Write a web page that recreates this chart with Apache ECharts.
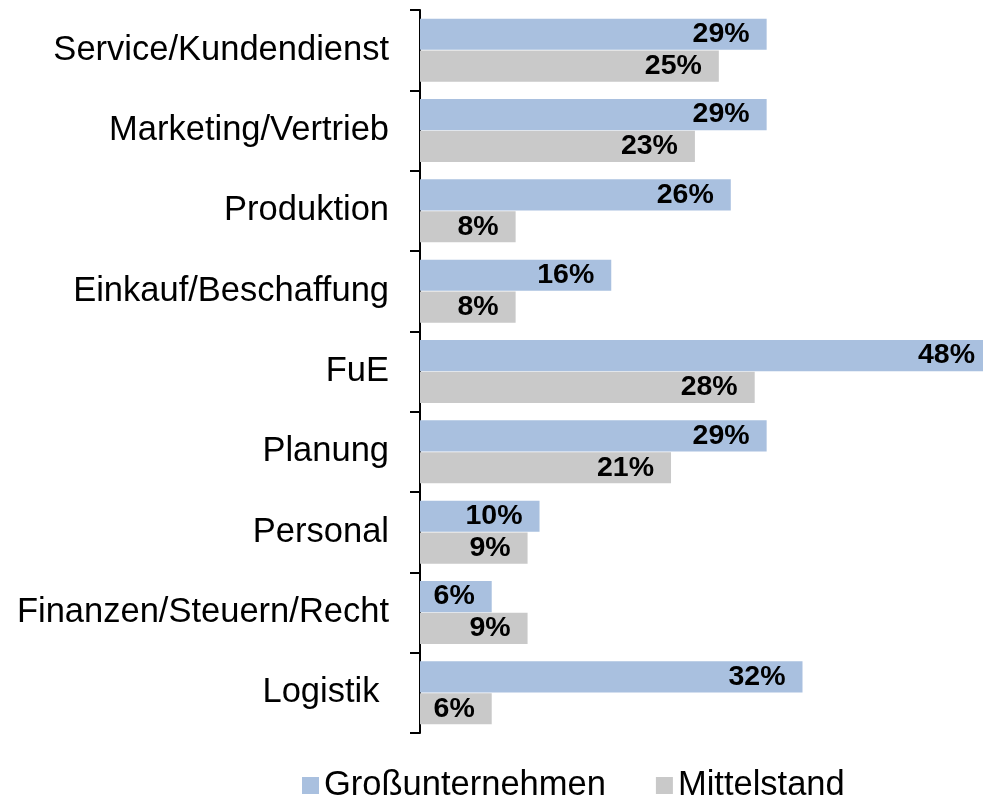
<!DOCTYPE html>
<html>
<head>
<meta charset="utf-8">
<script src="https://cdn.jsdelivr.net/npm/echarts@6/dist/echarts.min.js"></script>
<style>
html,body{margin:0;padding:0;background:#fff;}
#chart{width:983px;height:797px;}
</style>
</head>
<body>
<div id="chart"></div>
<script>
const categories = ["Service/Kundendienst","Marketing/Vertrieb","Produktion","Einkauf/Beschaffung","FuE","Planung","Personal","Finanzen/Steuern/Recht","Logistik "];
const grossunternehmen = [29,29,26,16,48,29,10,6,32];
const mittelstand = [25,23,8,8,28,21,9,9,6];
const seriesNames = ["Großunternehmen","Mittelstand"];

const AXIS_MAX = 47.1;
const chart = echarts.init(document.getElementById('chart'));
const FONT = '"Liberation Sans", Arial, sans-serif';
const labelOpt = {
  show: true,
  position: 'insideRight',
  distance: 17,
  formatter: p => p.value + '%',
  color: '#000',
  fontWeight: 'bold',
  fontSize: 28.5,
  fontFamily: FONT
};
const toData = arr => arr.map(v => v > AXIS_MAX ? {value: v, label: {distance: 8}} : v);
chart.setOption({
  animation: false,
  backgroundColor: '#fff',
  grid: {left: 420, right: 0, top: 10, bottom: 64},
  xAxis: {type: 'value', min: 0, max: AXIS_MAX, show: false},
  yAxis: {
    type: 'category',
    data: categories,
    inverse: true,
    axisLine: {show: true, lineStyle: {color: '#000', width: 2}},
    axisTick: {show: true, length: 10, lineStyle: {color: '#000', width: 2}},
    axisLabel: {color: '#000', fontSize: 34.5, fontFamily: FONT, margin: 31}
  },
  legend: {
    data: seriesNames,
    left: 297,
    top: 763,
    itemWidth: 17,
    itemHeight: 17,
    itemGap: 50,
    icon: 'rect',
    textStyle: {color: '#000', fontSize: 34.5, fontFamily: FONT, lineHeight: 34}
  },
  series: [
    {name: seriesNames[0], type: 'bar', data: toData(grossunternehmen), barGap: '2%', barCategoryGap: '21.5%',
     itemStyle: {color: '#A9C0DF'}, label: labelOpt},
    {name: seriesNames[1], type: 'bar', data: toData(mittelstand),
     itemStyle: {color: '#C9C9C9'}, label: labelOpt}
  ]
});
</script>
</body>
</html>
